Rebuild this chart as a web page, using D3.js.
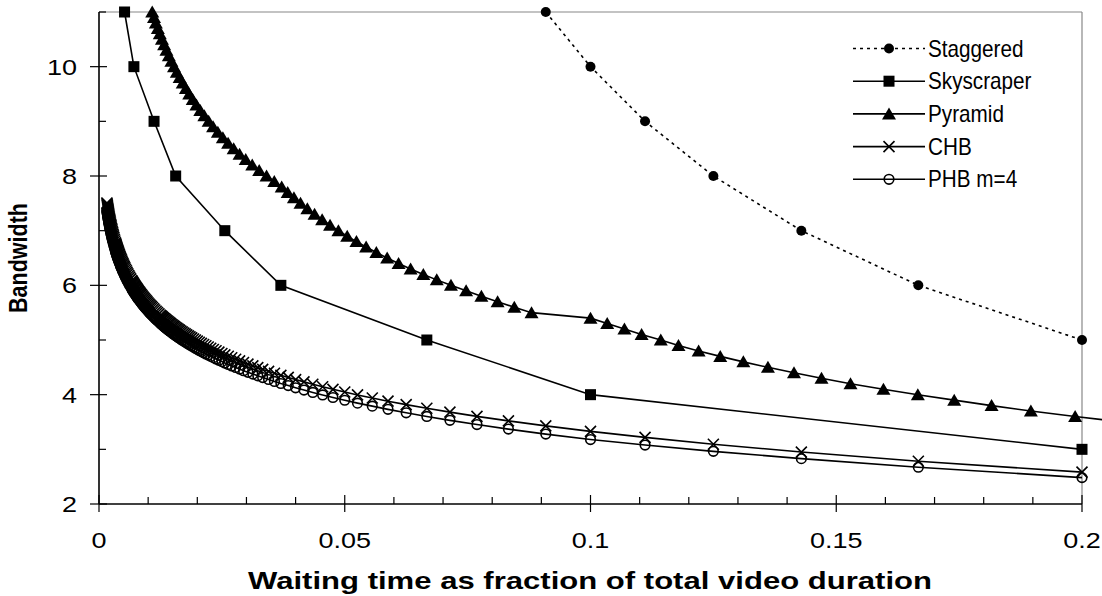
<!DOCTYPE html>
<html><head><meta charset="utf-8">
<script src="https://cdn.jsdelivr.net/npm/d3@7"></script>
<style>
body{margin:0;background:#fff}
svg{display:block}
text{font-family:"Liberation Sans",Arial,sans-serif;fill:#000}
</style>
</head><body>
<svg id="c" width="1102" height="596"></svg>
<script>
// ---------- data ----------
const xTickValues = [0, 0.05, 0.1, 0.15, 0.2];
const xTickLabels = ["0", "0.05", "0.1", "0.15", "0.2"];
const xMinorTicks = [0.01,0.02,0.03,0.04,0.06,0.07,0.08,0.09,0.11,0.12,0.13,0.14,0.16,0.17,0.18,0.19];
const yTickValues = [2, 4, 6, 8, 10];
const yTickLabels = ["2", "4", "6", "8", "10"];
const yMinorTicks = [3, 5, 7, 9, 11];

const seriesNames = ["Staggered", "Skyscraper", "Pyramid", "CHB", "PHB m=4"];

const staggeredX = [0.0909, 0.1, 0.1111, 0.125, 0.1429, 0.1667, 0.2];
const staggeredY = [11, 10, 9, 8, 7, 6, 5];

const skyscraperX = [0.0052, 0.0071, 0.0112, 0.0156, 0.0256, 0.037, 0.0667, 0.1, 0.2];
const skyscraperY = [11, 10, 9, 8, 7, 6, 5, 4, 3];

const pyramidX = [0.01083,0.01119,0.01157,0.01197,0.01237,0.01280,0.01325,0.01372,0.01421,0.01473,
  0.01526,0.01583,0.01641,0.01703,0.01768,0.01836,0.01907,0.01982,0.02061,0.02143,
  0.02231,0.02321,0.02418,0.02520,0.02627,0.02740,0.02860,0.02985,0.03118,0.03259,
  0.03409,0.03566,0.03717,0.03839,0.03966,0.04100,0.04239,0.04386,0.04540,0.04701,
  0.04871,0.05050,0.05238,0.05435,0.05643,0.05863,0.06095,0.06340,0.06599,0.06872,
  0.07161,0.07469,0.07780,0.08110,0.08450,0.08800,
  0.1000,0.1034,0.1069,0.1104,0.1143,0.1179,0.1220,0.1264,0.1311,0.1361,
  0.1414,0.1470,0.1529,0.1596,0.1666,0.1740,0.1816,0.1896,0.1986,0.2081];
const pyramidY = [11.0,10.9,10.8,10.7,10.6,10.5,10.4,10.3,10.2,10.1,
  10.0,9.9,9.8,9.7,9.6,9.5,9.4,9.3,9.2,9.1,
  9.0,8.9,8.8,8.7,8.6,8.5,8.4,8.3,8.2,8.1,
  8.0,7.9,7.8,7.7,7.6,7.5,7.4,7.3,7.2,7.1,
  7.0,6.9,6.8,6.7,6.6,6.5,6.4,6.3,6.2,6.1,
  6.0,5.9,5.8,5.7,5.6,5.5,
  5.4,5.3,5.2,5.1,5.0,4.9,4.8,4.7,4.6,4.5,
  4.4,4.3,4.2,4.1,4.0,3.9,3.8,3.7,3.6,3.5];

const harmonicX = [0.2,0.1667,0.1429,0.125,0.1111,0.1,0.0909,0.0833,0.0769,0.0714,
  0.0667,0.0625,0.0588,0.0556,0.0526,0.05,0.0476,0.0455,0.0435,0.0417,
  0.04,0.0385,0.037,0.0357,0.0345,0.0333,0.0323,0.0313,0.0303,0.0294,
  0.0286,0.0278,0.027,0.0263,0.0256,0.025,0.02439,0.02381,0.02326,0.02273,
  0.02222,0.02174,0.02128,0.02083,0.02041,0.02,0.01961,0.01923,0.01887,0.01852,
  0.01818,0.01786,0.01754,0.01724,0.01695,0.01667,0.01639,0.01613,0.01587,0.01563,
  0.01538,0.01515,0.01493,0.01471,0.01449,0.01429,0.01408,0.01389,0.0137,0.01351,
  0.01333,0.01316,0.01299,0.01282,0.01266,0.0125,0.0122,0.0119,0.01163,0.01136,
  0.01111,0.01087,0.01064,0.01042,0.0102,0.01,0.0098,0.00962,0.00943,0.00926,
  0.00909,0.00893,0.00877,0.00862,0.00847,0.00833,0.0082,0.00806,0.00794,0.00781,
  0.00769,0.00758,0.00746,0.00735,0.00725,0.00714,0.00704,0.00694,0.00685,0.00676,
  0.00667,0.00645,0.00625,0.00606,0.00588,0.00571,0.00556,0.00541,0.00526,0.00513,
  0.005,0.00488,0.00476,0.00465,0.00455,0.00444,0.00435,0.00426,0.00417,0.00408,
  0.004,0.00392,0.00385,0.00377,0.0037,0.00364,0.00357,0.00351,0.00345,0.00339,
  0.00333,0.00323,0.00313,0.00303,0.00294,0.00286,0.00278,0.0027,0.00263,0.00256,
  0.0025,0.00244,0.00238,0.00233,0.00227,0.00222,0.00217,0.00213,0.00208,0.00204,
  0.002,0.00196,0.00192,0.00189,0.00185,0.00182,0.00179,0.00175,0.00172,0.00169,
  0.00167,0.00164,0.00161];
const chbY = [2.583,2.783,2.950,3.093,3.218,3.329,3.429,3.520,3.603,3.680,
  3.752,3.818,3.881,3.940,3.995,4.048,4.098,4.145,4.191,4.234,
  4.276,4.316,4.354,4.392,4.427,4.462,4.495,4.527,4.559,4.589,
  4.618,4.647,4.675,4.702,4.728,4.754,4.779,4.803,4.827,4.850,
  4.873,4.895,4.917,4.938,4.959,4.979,4.999,5.019,5.038,5.057,
  5.075,5.094,5.111,5.129,5.146,5.163,5.180,5.196,5.212,5.228,
  5.244,5.259,5.274,5.289,5.304,5.319,5.333,5.347,5.361,5.375,
  5.388,5.401,5.415,5.428,5.440,5.453,5.478,5.502,5.526,5.549,
  5.571,5.594,5.615,5.636,5.657,5.677,5.697,5.717,5.736,5.755,
  5.773,5.791,5.809,5.827,5.844,5.861,5.877,5.893,5.910,5.925,
  5.941,5.956,5.971,5.986,6.001,6.015,6.030,6.044,6.057,6.071,
  6.085,6.117,6.149,6.180,6.210,6.239,6.267,6.295,6.322,6.348,
  6.373,6.398,6.422,6.446,6.469,6.491,6.513,6.535,6.556,6.576,
  6.597,6.617,6.636,6.655,6.674,6.692,6.710,6.728,6.745,6.763,
  6.779,6.812,6.844,6.875,6.905,6.934,6.962,6.989,7.016,7.042,
  7.067,7.092,7.116,7.140,7.163,7.185,7.207,7.229,7.250,7.271,
  7.291,7.311,7.330,7.349,7.368,7.386,7.404,7.422,7.439,7.457,
  7.473,7.490,7.506];
const phbY = [2.483,2.673,2.830,2.963,3.078,3.179,3.279,3.370,3.453,3.530,
  3.602,3.668,3.731,3.790,3.845,3.898,3.948,3.995,4.041,4.084,
  4.126,4.166,4.204,4.242,4.277,4.312,4.345,4.377,4.409,4.439,
  4.468,4.497,4.525,4.552,4.578,4.604,4.629,4.653,4.677,4.700,
  4.723,4.745,4.767,4.788,4.809,4.829,4.849,4.869,4.888,4.907,
  4.925,4.944,4.961,4.979,4.996,5.013,5.030,5.046,5.062,5.078,
  5.094,5.109,5.124,5.139,5.154,5.169,5.183,5.197,5.211,5.225,
  5.238,5.251,5.265,5.278,5.290,5.303,5.328,5.352,5.376,5.399,
  5.421,5.444,5.465,5.486,5.507,5.527,5.547,5.567,5.586,5.605,
  5.623,5.641,5.659,5.677,5.694,5.711,5.727,5.743,5.760,5.775,
  5.791,5.806,5.821,5.836,5.851,5.865,5.880,5.894,5.907,5.921,
  5.935,5.967,5.999,6.030,6.060,6.089,6.117,6.145,6.172,6.198,
  6.223,6.248,6.272,6.296,6.319,6.341,6.363,6.385,6.406,6.426,
  6.447,6.467,6.486,6.505,6.524,6.542,6.560,6.578,6.595,6.613,
  6.629,6.662,6.694,6.725,6.755,6.784,6.812,6.839,6.866,6.892,
  6.917,6.942,6.966,6.990,7.013,7.035,7.057,7.079,7.100,7.121,
  7.141,7.161,7.180,7.199,7.218,7.236,7.254,7.272,7.289,7.307,
  7.323,7.340,7.356];

// ---------- layout ----------
const svg = d3.select("#c");
const L = 99, R = 1082, T = 12, B = 504;
const x = d3.scaleLinear().domain([0, 0.2]).range([L, R]);
const y = d3.scaleLinear().domain([2, 11]).range([B, T]);

// plot frame (top/right grey)
svg.append("line").attr("x1", L).attr("x2", R).attr("y1", T).attr("y2", T).attr("stroke", "#888").attr("stroke-width", 1.2);
svg.append("line").attr("x1", R).attr("x2", R).attr("y1", T).attr("y2", B).attr("stroke", "#888").attr("stroke-width", 1.2);

// ---------- series ----------
const zip = (xs, ys) => xs.map((v, i) => [v, ys[i]]);
const series = [
  {name: seriesNames[0], data: zip(staggeredX, staggeredY), marker: "dot", dash: "3,4"},
  {name: seriesNames[1], data: zip(skyscraperX, skyscraperY), marker: "square"},
  {name: seriesNames[2], data: zip(pyramidX, pyramidY), marker: "triangle"},
  {name: seriesNames[3], data: zip(harmonicX, chbY), marker: "cross"},
  {name: seriesNames[4], data: zip(harmonicX, phbY), marker: "ring"}
];

function drawMarker(g, type, cx, cy) {
  if (type === "dot") {
    g.append("circle").attr("cx", cx).attr("cy", cy).attr("r", 5).attr("fill", "#000");
  } else if (type === "square") {
    g.append("rect").attr("x", cx - 5.5).attr("y", cy - 5.5).attr("width", 11).attr("height", 11).attr("fill", "#000");
  } else if (type === "triangle") {
    g.append("path").attr("d", `M${cx},${cy - 6.5}L${cx + 7},${cy + 5.5}L${cx - 7},${cy + 5.5}Z`).attr("fill", "#000");
  } else if (type === "cross") {
    g.append("path").attr("d", `M${cx - 5.5},${cy - 5.5}L${cx + 5.5},${cy + 5.5}M${cx + 5.5},${cy - 5.5}L${cx - 5.5},${cy + 5.5}`)
      .attr("stroke", "#000").attr("stroke-width", 1.6).attr("fill", "none");
  } else if (type === "ring") {
    g.append("circle").attr("cx", cx).attr("cy", cy).attr("r", 4.8).attr("fill", "none")
      .attr("stroke", "#000").attr("stroke-width", 1.6);
  }
}

const line = d3.line().x(d => x(d[0])).y(d => y(d[1]));
series.forEach(s => {
  const g = svg.append("g");
  g.append("path").attr("d", line(s.data)).attr("fill", "none").attr("stroke", "#000")
    .attr("stroke-width", 1.6).attr("stroke-dasharray", s.dash || null);
  s.data.filter(d => d[0] <= 0.2 + 1e-9 && d[1] <= 11 + 1e-9)
    .forEach(d => drawMarker(g, s.marker, x(d[0]), y(d[1])));
});

// ---------- axes ----------
const ax = svg.append("g");
ax.append("line").attr("x1", L).attr("x2", R).attr("y1", B).attr("y2", B).attr("stroke", "#000").attr("stroke-width", 1.6);
ax.append("line").attr("x1", L).attr("x2", L).attr("y1", T).attr("y2", B).attr("stroke", "#000").attr("stroke-width", 1.6);
xMinorTicks.forEach(v => ax.append("line").attr("x1", x(v)).attr("x2", x(v)).attr("y1", B).attr("y2", B - 7).attr("stroke", "#000").attr("stroke-width", 1.2));
xTickValues.forEach(v => ax.append("line").attr("x1", x(v)).attr("x2", x(v)).attr("y1", B - 9).attr("y2", B + 8).attr("stroke", "#000").attr("stroke-width", 1.2));
yMinorTicks.forEach(v => ax.append("line").attr("x1", L).attr("x2", L + 7).attr("y1", y(v)).attr("y2", y(v)).attr("stroke", "#000").attr("stroke-width", 1.2));
yTickValues.forEach(v => ax.append("line").attr("x1", L - 9).attr("x2", L + 8).attr("y1", y(v)).attr("y2", y(v)).attr("stroke", "#000").attr("stroke-width", 1.2));

xTickValues.forEach((v, i) => {
  ax.append("text").attr("transform", `translate(${x(v)},548) scale(1.2,1)`)
    .attr("text-anchor", "middle").attr("font-size", 22.5).text(xTickLabels[i]);
});
yTickValues.forEach((v, i) => {
  ax.append("text").attr("transform", `translate(77,${y(v) + 8}) scale(1.2,1)`)
    .attr("text-anchor", "end").attr("font-size", 22.5).text(yTickLabels[i]);
});

// titles
svg.append("text").attr("x", 590).attr("y", 589).attr("text-anchor", "middle")
  .attr("font-size", 24).attr("font-weight", "bold")
  .attr("textLength", 684).attr("lengthAdjust", "spacingAndGlyphs")
  .text("Waiting time as fraction of total video duration");
svg.append("text").attr("transform", "translate(27,258) scale(1.2,1) rotate(-90)")
  .attr("text-anchor", "middle").attr("font-size", 21.5).attr("font-weight", "bold")
  .text("Bandwidth");

// ---------- legend ----------
const legendRows = [48.5, 81.2, 113.9, 146.6, 179.3];
series.forEach((s, i) => {
  const g = svg.append("g");
  const cy = legendRows[i];
  g.append("line").attr("x1", 853).attr("x2", 925).attr("y1", cy).attr("y2", cy)
    .attr("stroke", "#000").attr("stroke-width", 1.6).attr("stroke-dasharray", s.dash || null);
  drawMarker(g, s.marker, 889, cy);
  g.append("text").attr("transform", `translate(928,${cy + 8}) scale(0.9,1)`)
    .attr("font-size", 23).text(s.name);
});
</script>
</body></html>
